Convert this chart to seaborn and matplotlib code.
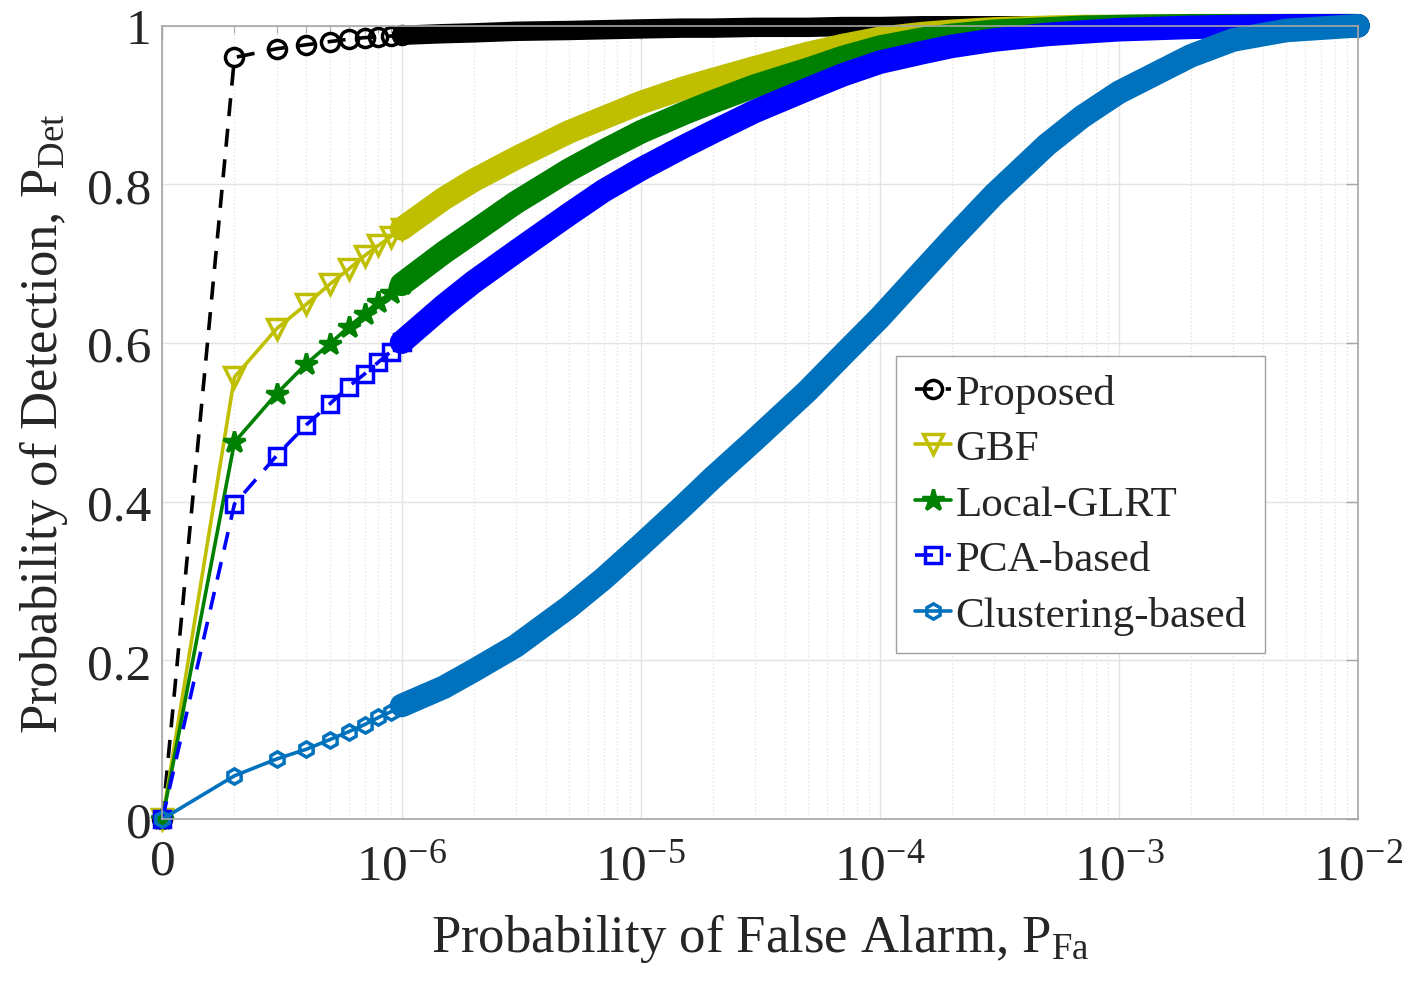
import numpy as np
import pandas as pd
import matplotlib
matplotlib.use('Agg')
from matplotlib import pyplot as plt
from matplotlib.ticker import LogLocator, NullFormatter
from matplotlib.transforms import ScaledTranslation
import seaborn as sns

sns.set_style('white')
plt.rcParams['font.family'] = ['Liberation Serif', 'DejaVu Serif']
plt.rcParams['mathtext.fontset'] = 'custom'
plt.rcParams['mathtext.rm'] = 'Liberation Serif'
plt.rcParams['mathtext.it'] = 'Liberation Serif:italic'
plt.rcParams['mathtext.bf'] = 'Liberation Serif:bold'

# false alarm probabilities (first one is drawn as "0" on the axis)
pfa = [1e-7, 2e-7, 3e-7, 4e-7, 5e-7, 6e-7, 7e-7, 8e-7, 9e-7, 1e-6,
       1.5e-6, 2e-6, 3e-6, 5e-6, 7e-6, 1e-5, 1.5e-5, 2e-5, 3e-5, 5e-5,
       7e-5, 1e-4, 1.5e-4, 2e-4, 3e-4, 5e-4, 7e-4, 1e-3, 2e-3, 3e-3,
       5e-3, 1e-2]

proposed = [0, 0.960, 0.971, 0.976, 0.980, 0.983, 0.985, 0.986, 0.987, 0.988,
            0.990, 0.991, 0.993, 0.994, 0.995, 0.996, 0.997, 0.997, 0.998, 0.998,
            0.999, 0.999, 1.0, 1.0, 1.0, 1.0, 1.0, 1.0, 1.0, 1.0,
            1.0, 1.0]
gbf = [0, 0.557, 0.618, 0.649, 0.674, 0.693, 0.710, 0.723, 0.734, 0.744,
       0.782, 0.805, 0.833, 0.866, 0.884, 0.903, 0.921, 0.932, 0.947, 0.965,
       0.975, 0.984, 0.990, 0.993, 0.996, 0.998, 0.999, 0.999, 1.0, 1.0,
       1.0, 1.0]
local_glrt = [0, 0.475, 0.536, 0.574, 0.599, 0.620, 0.637, 0.652, 0.663, 0.674,
              0.714, 0.740, 0.777, 0.818, 0.842, 0.866, 0.889, 0.904, 0.924, 0.945,
              0.960, 0.973, 0.983, 0.988, 0.993, 0.996, 0.998, 0.999, 1.0, 1.0,
              1.0, 1.0]
pca_based = [0, 0.397, 0.458, 0.497, 0.523, 0.545, 0.561, 0.576, 0.589, 0.601,
             0.647, 0.677, 0.715, 0.762, 0.792, 0.819, 0.847, 0.866, 0.892, 0.920,
             0.938, 0.954, 0.966, 0.974, 0.982, 0.989, 0.992, 0.995, 0.998, 0.999,
             1.0, 1.0]
clustering = [0, 0.0545, 0.0756, 0.088, 0.100, 0.110, 0.119, 0.128, 0.135, 0.143,
              0.166, 0.187, 0.218, 0.267, 0.303, 0.345, 0.394, 0.430, 0.478, 0.540,
              0.585, 0.632, 0.690, 0.731, 0.787, 0.850, 0.885, 0.916, 0.962, 0.982,
              0.994, 1.0]

methods = ['Proposed', 'GBF', 'Local-GLRT', 'PCA-based', 'Clustering-based']
series = [proposed, gbf, local_glrt, pca_based, clustering]
colors = ['black', '#bfbf00', '#008000', '#0000ff', '#0072bd']
markers = ['o', 'v', '*', 's', 'h']
msizes = [13, 14, 16, 12, 11]
bands = [14, 17, 17, 17, 17]
lstyles = [(0, (5, 3.5)), '-', '-', (0, (5, 3.5)), '-']

df = pd.concat([pd.DataFrame({'pfa': pfa, 'pdet': s, 'method': m})
                for m, s in zip(methods, series)], ignore_index=True)

fig = plt.figure(figsize=(14.24, 9.87), dpi=100)
ax = fig.add_axes([0.1141, 0.1692, 0.8395, 0.8037])

for m, c, mk, ms, bw, ls in zip(methods, colors, markers, msizes, bands, lstyles):
    d = df[df.method == m]
    early = d[d.pfa <= 1e-6]
    late = d[d.pfa >= 1e-6]
    # dense region: the markers merge into a thick band
    sns.lineplot(data=late, x='pfa', y='pdet', ax=ax, color=c, linewidth=bw,
                 solid_capstyle='round', solid_joinstyle='round',
                 estimator=None, sort=False, legend=False, clip_on=False)
    sns.lineplot(data=early, x='pfa', y='pdet', ax=ax, color=c, linewidth=2.6,
                 linestyle=ls, marker=mk, markersize=ms,
                 markerfacecolor='none' if mk != '*' else c,
                 markeredgecolor=c, markeredgewidth=2.5,
                 estimator=None, sort=False, label=m, clip_on=False)

ax.set_xscale('log')
ax.set_xlim(1e-7, 1e-2)
ax.set_ylim(0, 1)

ax.set_xticks([1e-7, 1e-6, 1e-5, 1e-4, 1e-3, 1e-2],
              ['0', '$10^{-6}$', '$10^{-5}$', '$10^{-4}$', '$10^{-3}$', '$10^{-2}$'])
ax.xaxis.set_minor_locator(LogLocator(base=10, subs=np.arange(2, 10), numticks=20))
ax.xaxis.set_minor_formatter(NullFormatter())
ax.set_yticks([0, 0.2, 0.4, 0.6, 0.8, 1.0], ['0', '0.2', '0.4', '0.6', '0.8', '1'])

ax.grid(which='major', color='#e3e3e3', linewidth=1)
ax.grid(which='minor', axis='x', color='#e3e3e3', linestyle=':', linewidth=1)
ax.set_axisbelow(True)

for sp in ax.spines.values():
    sp.set_color('#a6a6a6')
    sp.set_linewidth(1.2)
ax.tick_params(which='both', direction='in', top=True, right=True,
               colors='#a6a6a6', labelcolor='#262626', labelsize=37)
ax.tick_params(which='major', length=9, width=1)
ax.tick_params(which='minor', length=5, width=0.8)
ax.tick_params(axis='x', pad=17)
ax.tick_params(axis='y', pad=8)

# the plain "0" sits a little higher than the power labels
t0 = ax.xaxis.get_major_ticks()[0]
t0.label1.set_transform(t0.label1.get_transform()
                        + ScaledTranslation(0, 3 / 72, fig.dpi_scale_trans))

ax.set_xlabel(r'Probability of False Alarm, P$_{\mathrm{Fa}}$', fontsize=38,
              color='#262626', labelpad=16)
ax.set_ylabel(r'Probability of Detection, P$_{\mathrm{Det}}$', fontsize=38,
              color='#262626', labelpad=12)

leg = ax.legend(loc='upper left', bbox_to_anchor=(0.614, 0.584), fontsize=31,
                frameon=True, fancybox=False, framealpha=1, edgecolor='#a0a0a0',
                handlelength=0.85, handletextpad=0.1, labelspacing=0.38,
                borderpad=0.42, borderaxespad=0, numpoints=1)
leg.get_frame().set_linewidth(1)

fig.savefig('out.png', dpi=100)
